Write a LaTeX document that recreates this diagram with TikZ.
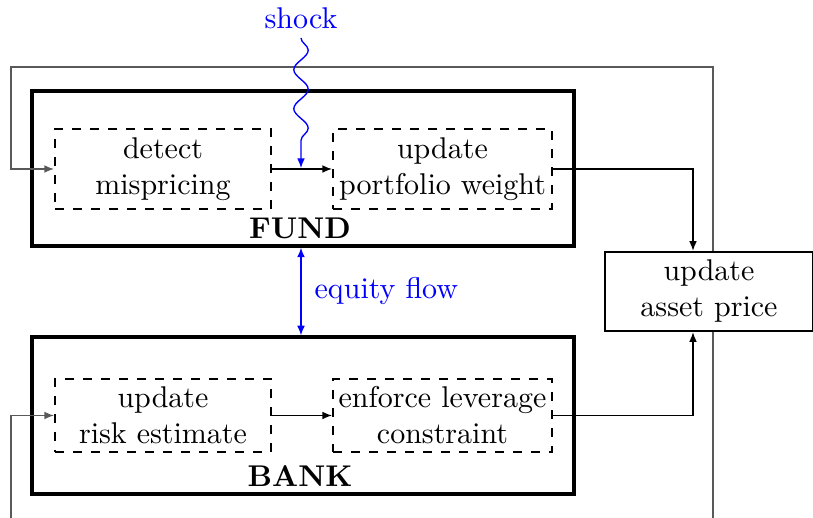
\documentclass[tikz,border=0pt]{standalone}
\usetikzlibrary{arrows.meta,decorations.pathmorphing}
\newcommand\pxu{0.3333pt}
\begin{document}
\begin{tikzpicture}[x=\pxu,y=-\pxu,>={Latex[length=3.2pt,width=2.6pt]},
  outerbox/.style={draw,line width=1.1pt,minimum width=542*\pxu},
  sub/.style={draw,dashed,line width=0.7pt,align=center,inner sep=0pt},
  plain/.style={draw,line width=0.85pt,align=center,inner sep=0pt,fill=white},
  feedback/.style={draw=black!65,line width=0.45pt},
  link/.style={draw,line width=0.45pt,->}]
\useasboundingbox (0,0) rectangle (813,518);

% corners of the feedback loop
\coordinate (tr) at (713,67);
\coordinate (tl) at (11,67);
\coordinate (bot) at (713,518);
\coordinate (lb) at (11,518);

% fund block
\node[outerbox,minimum height=155*\pxu] (fund) at (303,168.5) {};
\node[sub,minimum width=216*\pxu,minimum height=80*\pxu] (detect) at (163,169) {detect\\mispricing};
\node[sub,minimum width=219*\pxu,minimum height=80*\pxu] (port) at (442.5,169) {update\\portfolio weight};
\node[font=\bfseries] (fundlbl) at (300,228) {FUND};

% bank block
\node[outerbox,minimum height=157*\pxu] (bank) at (303,415.5) {};
\node[sub,minimum width=216*\pxu,minimum height=73*\pxu] (risk) at (163,415.5) {update\\risk estimate};
\node[sub,minimum width=219*\pxu,minimum height=73*\pxu] (lev) at (442.5,415.5) {enforce leverage\\constraint};
\node[font=\bfseries] (banklbl) at (300,476) {BANK};

% gray loop
\draw[feedback,->] (bot) -- (tr) -- (tl) |- (detect.west);
\draw[feedback,->] (lb) |- (risk.west);

% price box
\node[plain,minimum width=208*\pxu,minimum height=79*\pxu] (price) at (709,291.5) {update\\asset price};

% inner arrows
\draw[link] (detect.east) -- (port.west);
\draw[link] (risk.east) -- (lev.west);
\draw[link] (port.east) -| (price.north -| 693,0);
\draw[link] (lev.east) -| (price.south -| 693,0);

% shock
\node[text=blue] (shock) at (301,18) {shock};
\coordinate (hit) at (301,168);
\coordinate (shockstart) at (301,38);
\draw[blue,line width=0.45pt,->,decorate,decoration={snake,segment length=13pt,amplitude=2.4pt,post length=3pt}] (shockstart) -- (hit);

% equity flow
\draw[blue,line width=0.45pt,<->] (fund.south -| 301,0) -- (bank.north -| 301,0)
  node[midway,right,text=blue,xshift=1pt] (eq) {equity flow};
\end{tikzpicture}
\end{document}
